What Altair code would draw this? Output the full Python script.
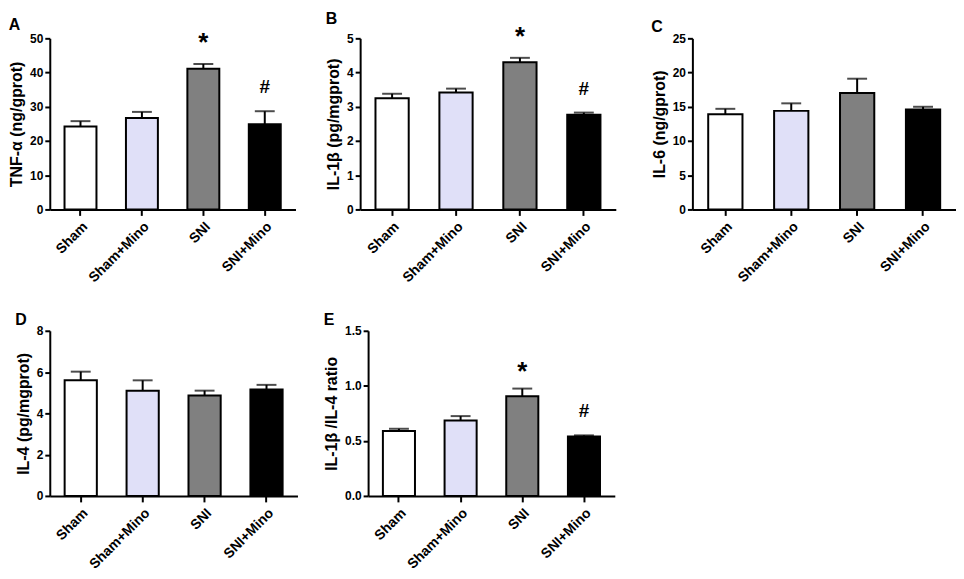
import altair as alt
import pandas as pd

groups = ["Sham", "Sham+Mino", "SNI", "SNI+Mino"]
colors = ["#ffffff", "#e0e0f8", "#808080", "#000000"]

tnf = [24.2, 26.7, 41.1, 24.9]
tnf_err = [1.6, 1.8, 1.4, 3.8]
tnf_sig = ["", "", "*", "#"]

il1b = [3.25, 3.42, 4.30, 2.77]
il1b_err = [0.13, 0.11, 0.13, 0.06]
il1b_sig = ["", "", "*", "#"]

il6 = [13.9, 14.4, 17.0, 14.6]
il6_err = [0.8, 1.1, 2.1, 0.4]
il6_sig = ["", "", "", ""]

il4 = [5.6, 5.1, 4.87, 5.15]
il4_err = [0.42, 0.5, 0.23, 0.23]
il4_sig = ["", "", "", ""]

ratio = [0.59, 0.685, 0.905, 0.54]
ratio_err = [0.02, 0.04, 0.07, 0.01]
ratio_sig = ["", "", "*", "#"]

FONT = "Liberation Sans"


def panel(letter, vals, errs, sig, ytitle, ymax, ticks, fmt, w, h, toff, sdy):
    df = pd.DataFrame({
        "group": groups,
        "value": vals,
        "upper": [v + e for v, e in zip(vals, errs)],
        "sig": sig,
    })
    x = alt.X("group:N", sort=groups, title=None,
              scale=alt.Scale(paddingInner=0.48, paddingOuter=0.24),
              axis=alt.Axis(labelAngle=-45, labelAlign="right", labelBaseline="top",
                            labelFontSize=14, labelPadding=4, tickSize=6))
    yscale = alt.Scale(domain=[0, ymax], nice=False)
    yaxis = alt.Axis(values=ticks, format=fmt, tickSize=5, labelPadding=2,
                     titlePadding=5, labelOverlap=False)
    base = alt.Chart(df)
    bars = base.mark_bar(stroke="black", strokeWidth=2).encode(
        x=x,
        y=alt.Y("value:Q", scale=yscale, title=ytitle, axis=yaxis),
        color=alt.Color("group:N", scale=alt.Scale(domain=groups, range=colors), legend=None),
    )
    rule = base.mark_rule(color="black", strokeWidth=2).encode(
        x=x, y=alt.Y("value:Q", scale=yscale, title=ytitle, axis=yaxis), y2="upper:Q")
    cap = base.mark_tick(orient="horizontal", color="black", size=20, thickness=2).encode(
        x=x, y=alt.Y("upper:Q", scale=yscale, title=ytitle, axis=yaxis))
    star = base.transform_filter(alt.datum.sig == "*").mark_text(
        font=FONT, fontSize=26, fontWeight="bold", baseline="bottom", dy=sdy, color="black"
    ).encode(x=x, y=alt.Y("upper:Q", scale=yscale, title=ytitle, axis=yaxis), text="sig:N")
    hashm = base.transform_filter(alt.datum.sig == "#").mark_text(
        font=FONT, fontSize=19, fontWeight="bold", baseline="bottom", dy=-14, color="black"
    ).encode(x=x, y=alt.Y("upper:Q", scale=yscale, title=ytitle, axis=yaxis), text="sig:N")
    return alt.layer(bars, rule, cap, star, hashm).properties(
        width=w, height=h,
        title=alt.TitleParams(text=letter, anchor="start", frame="bounds", fontSize=16,
                              fontWeight="bold", font=FONT, offset=toff, color="black"),
    )


pA = panel("A", tnf, tnf_err, tnf_sig, "TNF-α (ng/gprot)", 50, [0, 10, 20, 30, 40, 50], "d", 247, 172, -3, -8)
pB = panel("B", il1b, il1b_err, il1b_sig, "IL-1β  (pg/mgprot)", 5, [0, 1, 2, 3, 4, 5], "d", 257, 172, -3, -8)
pC = panel("C", il6, il6_err, il6_sig, "IL-6 (ng/gprot)", 25, [0, 5, 10, 15, 20, 25], "d", 265, 172, -3, -8)
pD = panel("D", il4, il4_err, il4_sig, "IL-4 (pg/mgprot)", 8, [0, 2, 4, 6, 8], "d", 249, 166, -3, -8)
pE = panel("E", ratio, ratio_err, ratio_sig, "IL-1β /IL-4 ratio", 1.5, [0, 0.5, 1.0, 1.5], ".1f", 248, 166, -3, -4)

top = alt.hconcat(alt.hconcat(pA, pB, spacing=30), pC, spacing=35)
bottom = alt.hconcat(pD, pE, spacing=26)
chart = alt.vconcat(top, bottom, spacing=27).properties(
    padding={"top": 1, "left": 0, "right": 0, "bottom": 0}
).configure_view(stroke=None).configure_axis(
    domainColor="black", domainWidth=2, tickColor="black", tickWidth=2, grid=False,
    labelColor="black", labelFont=FONT, labelFontWeight="bold", labelFontSize=12,
    titleColor="black", titleFont=FONT, titleFontWeight="bold", titleFontSize=16,
)

chart.save("out.html", embed_options={"renderer": "svg", "actions": False})
